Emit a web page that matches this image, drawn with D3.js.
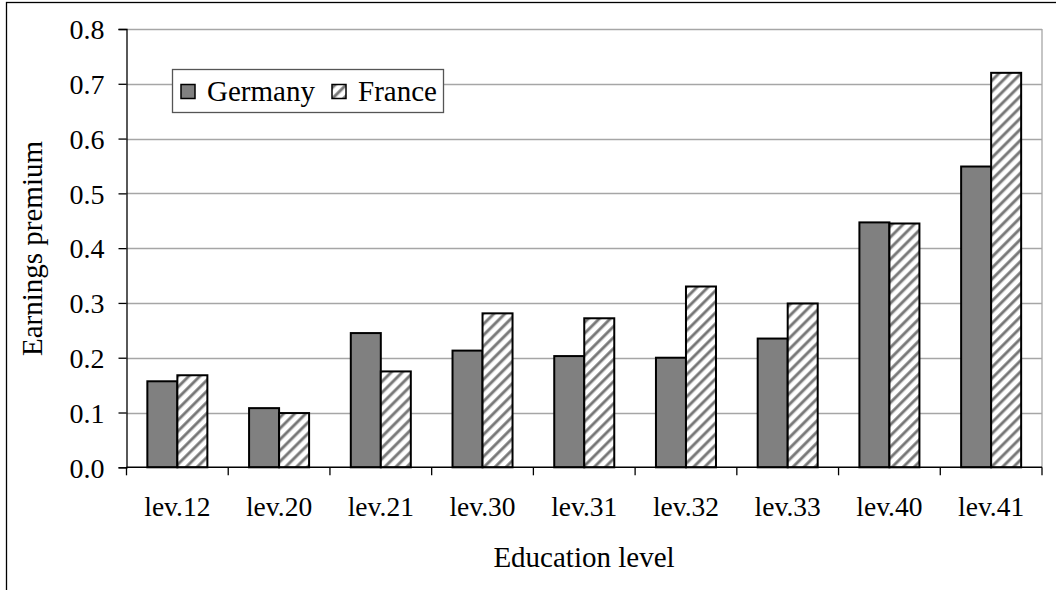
<!DOCTYPE html>
<html>
<head>
<meta charset="utf-8">
<script src="https://cdn.jsdelivr.net/npm/d3@7"></script>
<style>
  body { margin: 0; background: #fff; }
  text { font-family: "Liberation Serif", "Times New Roman", serif; fill: #000; }
</style>
</head>
<body>
<svg id="chart" width="1056" height="590"></svg>
<script>
// data
var levels = ["lev.12", "lev.20", "lev.21", "lev.30", "lev.31", "lev.32", "lev.33", "lev.40", "lev.41"];
var germany = [0.157, 0.108, 0.245, 0.213, 0.203, 0.200, 0.235, 0.447, 0.549];
var france = [0.168, 0.099, 0.175, 0.281, 0.272, 0.330, 0.299, 0.445, 0.720];
var seriesNames = ["Germany", "France"];
var yTicks = [0, 0.1, 0.2, 0.3, 0.4, 0.5, 0.6, 0.7, 0.8];

var svg = d3.select("#chart"),
	plot = {left: 126.5, right: 1042, top: 29, bottom: 467.3};

var x = d3.scaleBand().domain(levels).range([plot.left, plot.right]).padding(0),
	y = d3.scaleLinear().domain([0, 0.8]).range([plot.bottom, plot.top]);

var barW = x.bandwidth() * 0.295;

// hatch for France
var defs = svg.append("defs");
var pat = defs.append("pattern")
	.attr("id", "hatch")
	.attr("patternUnits", "userSpaceOnUse")
	.attr("width", 7.8).attr("height", 7.8)
	.attr("patternTransform", "rotate(45)");
pat.append("rect").attr("width", 7.8).attr("height", 7.8).attr("fill", "#fff");
pat.append("rect").attr("x", 0).attr("y", 0).attr("width", 3.4).attr("height", 7.8).attr("fill", "#a8a8a8");
pat.append("rect").attr("x", 0.8).attr("y", 0).attr("width", 1.8).attr("height", 7.8).attr("fill", "#707070");

// outer frame (right/bottom edges fall outside the picture)
svg.append("rect")
	.attr("x", 6.5).attr("y", 2.5)
	.attr("width", 1060).attr("height", 600)
	.attr("fill", "none").attr("stroke", "#000").attr("stroke-width", 1.3);

// gridlines
svg.append("g").selectAll("line")
	.data(yTicks.slice(1))
	.enter().append("line")
	.attr("x1", plot.left).attr("x2", plot.right)
	.attr("y1", function(d) { return Math.round(y(d)) + 0.5; })
	.attr("y2", function(d) { return Math.round(y(d)) + 0.5; })
	.attr("stroke", "#a6a6a6").attr("stroke-width", 1.3);

// right edge of plot area
svg.append("line")
	.attr("x1", plot.right).attr("x2", plot.right)
	.attr("y1", plot.top).attr("y2", plot.bottom)
	.attr("stroke", "#a6a6a6").attr("stroke-width", 1.3);

// bars
var groups = svg.append("g").selectAll("g")
	.data(levels)
	.enter().append("g");

groups.append("rect")
	.attr("x", function(d) { return x(d) + x.bandwidth() / 2 - barW; })
	.attr("y", function(d, i) { return y(germany[i]); })
	.attr("width", barW)
	.attr("height", function(d, i) { return y(0) - y(germany[i]); })
	.attr("fill", "#808080").attr("stroke", "#000").attr("stroke-width", 2);

groups.append("rect")
	.attr("x", function(d) { return x(d) + x.bandwidth() / 2; })
	.attr("y", function(d, i) { return y(france[i]); })
	.attr("width", barW)
	.attr("height", function(d, i) { return y(0) - y(france[i]); })
	.attr("fill", "url(#hatch)").attr("stroke", "#000").attr("stroke-width", 2);

// y axis
var yAxis = d3.axisLeft(y).tickValues(yTicks).tickFormat(d3.format(".1f")).tickSizeOuter(0).tickSize(8).tickPadding(14);
var gy = svg.append("g")
	.attr("transform", "translate(" + plot.left + ",0)")
	.call(yAxis);
gy.select(".domain").attr("stroke", "#000").attr("stroke-width", 1.3);
gy.selectAll(".tick line").attr("stroke", "#000").attr("stroke-width", 1.3);
gy.selectAll(".tick text").style("font-size", "28px").attr("font-family", null).attr("dy", "0.35em");

// x axis: ticks sit between categories
var xb = d3.scaleLinear().domain([0, levels.length]).range([plot.left, plot.right]);
var gx = svg.append("g")
	.attr("transform", "translate(0," + plot.bottom + ")");
gx.append("line")
	.attr("x1", plot.left).attr("x2", plot.right)
	.attr("stroke", "#000").attr("stroke-width", 1.5);
gx.selectAll(".tk")
	.data(d3.range(levels.length + 1))
	.enter().append("line")
	.attr("class", "tk")
	.attr("x1", function(d) { return xb(d); }).attr("x2", function(d) { return xb(d); })
	.attr("y1", 0).attr("y2", 8)
	.attr("stroke", "#000").attr("stroke-width", 1.3);
gx.selectAll("text")
	.data(levels)
	.enter().append("text")
	.attr("x", function(d) { return x(d) + x.bandwidth() / 2; })
	.attr("y", 49)
	.attr("text-anchor", "middle")
	.style("font-size", "27.5px")
	.text(function(d) { return d; });

// axis titles
svg.append("text")
	.attr("x", 584).attr("y", 567)
	.attr("text-anchor", "middle")
	.style("font-size", "29px")
	.text("Education level");

svg.append("text")
	.attr("transform", "translate(42,248.5) rotate(-90)")
	.attr("text-anchor", "middle")
	.style("font-size", "29px")
	.text("Earnings premium");

// legend
var legend = svg.append("g").attr("transform", "translate(172,69)");
legend.append("rect")
	.attr("x", 0.5).attr("y", 0.5).attr("width", 271).attr("height", 43)
	.attr("fill", "#fff").attr("stroke", "#555").attr("stroke-width", 1.3);
var fills = ["#808080", "url(#hatch)"];
var lx = [9, 160];
seriesNames.forEach(function(name, i) {
	legend.append("rect")
		.attr("x", lx[i]).attr("y", 15.5).attr("width", 14).attr("height", 14)
		.attr("fill", fills[i]).attr("stroke", "#000").attr("stroke-width", 1.5);
	legend.append("text")
		.attr("x", lx[i] + 26).attr("y", 32)
		.style("font-size", "29px")
		.text(name);
});
</script>
</body>
</html>
